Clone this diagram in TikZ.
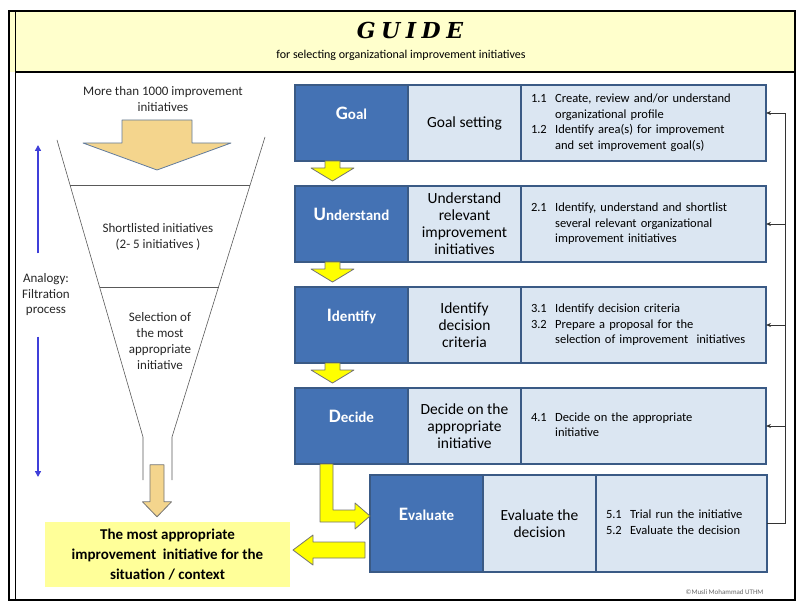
\documentclass[tikz,border=0pt]{standalone}
\usepackage{fontspec}
\setmainfont{Carlito}
\newfontfamily\guidefont[LetterSpace=25]{DejaVu Serif}
\usetikzlibrary{positioning,arrows.meta}
\definecolor{darkcell}{HTML}{4472B4}
\definecolor{lightcell}{HTML}{DBE6F2}
\definecolor{cellline}{HTML}{3A5A85}
\definecolor{headfill}{HTML}{FFFFCC}
\definecolor{resultfill}{HTML}{FFFF99}
\definecolor{stepyellow}{HTML}{FFFF00}
\definecolor{funneltan}{HTML}{F4D58D}
\definecolor{analogyblue}{HTML}{3F3FD9}
\tikzset{cell/.style={draw=cellline,line width=1.5pt,outer sep=0pt,minimum height=76pt},
         stage/.style={cell,fill=darkcell,text=white,minimum width=113pt,
                       font=\fontsize{15}{15}\selectfont\bfseries,text height=11pt,text depth=18pt},
         task/.style={cell,fill=lightcell,minimum width=113pt,align=center,
                      font=\fontsize{15.5}{17}\selectfont},
         detail/.style={cell,fill=lightcell,minimum width=245pt,text width=225pt,align=left,
                        anchor=west,font=\fontsize{12.5}{15.5}\selectfont},
         funnel text/.style={align=center,text=black!85,font=\fontsize{13}{15.5}\selectfont},
         step arrow/.style={fill=stepyellow,draw=black!55,line width=0.8pt,line join=round},
         tan arrow/.style={fill=funneltan,draw=black!55,line width=0.8pt,line join=round},
         feedback/.style={black!80,line width=0.7pt,-{Stealth[length=5pt,width=4pt]}},
            }
\newcommand{\initial}[1]{{\fontsize{19}{19}\selectfont #1}}

\begin{document}
\begin{tikzpicture}[x=1pt,y=-1pt]
    \useasboundingbox (0,0) rectangle (798,604);

    % frame and header
    \fill[headfill] (9,11) rectangle (795,72);
    \draw[line width=2pt] (9,11) rectangle (795,600);
    \draw[line width=0.8pt] (15,11) -- (15,600);
    \draw[line width=1.2pt] (15,72) -- (795,72);
    \node (title) at (410,30) {\fontsize{22}{22}\guidefont\bfseries\itshape GUIDE};
    \node (subtitle) at (401,55) {\fontsize{12}{12}\selectfont for selecting organizational improvement initiatives};

    % the funnel
    \draw[black!65,line width=0.6pt] (57,140) -- (143,437) -- (143,480);
    \draw[black!65,line width=0.6pt] (265,137) -- (172,437) -- (172,480);
    \draw[black!65,line width=0.6pt] (70,185) -- (250,185);
    \draw[black!65,line width=0.6pt] (100,287) -- (219,287);
    \node[funnel text] (more) at (163,99) {More than 1000 improvement\\initiatives};
    \draw[tan arrow,draw=cellline!80] (122,120) -- (192,120) -- (192,143) -- (231,143)
        -- (157,170) -- (83,143) -- (122,143) -- cycle;
    \node[funnel text] (short) at (158,237) {Shortlisted initiatives\\(2- 5 initiatives )};
    \node[funnel text,font=\fontsize{13}{16}\selectfont] (select) at (160,341)
        {Selection of\\the most\\appropriate\\initiative};
    \node[funnel text] (analogy) at (46,295) {Analogy:\\Filtration\\process};
    \coordinate (uptip) at (38,145);
    \coordinate (downtip) at (38,477);
    \draw[analogyblue,line width=1.5pt,-{Triangle[length=6pt,width=6pt]}]
        ([yshift=17pt]analogy.north -| uptip) -- (uptip);
    \draw[analogyblue,line width=1.5pt,-{Triangle[length=6pt,width=6pt]}]
        ([yshift=-17pt]analogy.south -| downtip) -- (downtip);

    \node[fill=resultfill,minimum width=245pt,minimum height=65pt,align=center,
          font=\fontsize{15}{20}\selectfont\bfseries] (result) at (167.5,554.5)
        {The most appropriate\\improvement\ \ initiative for the\\situation / context};
    \draw[tan arrow] ([xshift=-10.5pt,yshift=5pt]result.north) -- ++(-14.5,-15) -- ++(7.5,0)
        -- ++(0,-37) -- ++(14,0) -- ++(0,37) -- ++(7.5,0) -- cycle;

    % the five steps
    \node[stage,anchor=north west] (g1) at (295,85) {\initial{G}oal};
    \node[task,right=0pt of g1] (g2) {Goal setting};
    \node[detail,right=0pt of g2] (g3) {\begin{tabular}{@{}l@{\ \ }l@{}}
        1.1 & Create, review and/or understand\\ & organizational profile\\
        1.2 & Identify area(s) for improvement\\ & and set improvement goal(s)\end{tabular}};

    \node[stage,below=25pt of g1] (u1) {\initial{U}nderstand};
    \node[task,right=0pt of u1] (u2) {Understand\\relevant\\improvement\\initiatives};
    \node[detail,right=0pt of u2] (u3) {\begin{tabular}{@{}l@{\ \ }l@{}}
        2.1 & Identify, understand and shortlist\\ & several relevant organizational\\
            & improvement initiatives\end{tabular}};

    \node[stage,below=25pt of u1] (i1) {\initial{I}dentify};
    \node[task,right=0pt of i1] (i2) {Identify\\decision\\criteria};
    \node[detail,right=0pt of i2] (i3) {\begin{tabular}{@{}l@{\ \ }l@{}}
        3.1 & Identify decision criteria\\
        3.2 & Prepare a proposal for the\\ & selection of improvement\ \ initiatives\end{tabular}};

    \node[stage,below=25pt of i1] (d1) {\initial{D}ecide};
    \node[task,right=0pt of d1] (d2) {Decide on the\\appropriate\\initiative};
    \node[detail,right=0pt of d2] (d3) {\begin{tabular}{@{}l@{\ \ }l@{}}
        4.1 & Decide on the appropriate\\ & initiative\end{tabular}};

    \node[stage,anchor=north west,minimum height=97pt] (e1) at (370,475) {\initial{E}valuate};
    \node[task,right=0pt of e1,minimum height=97pt] (e2) {Evaluate the\\decision};
    \node[detail,right=0pt of e2,minimum height=97pt,minimum width=171pt,text width=151pt] (e3)
        {\begin{tabular}{@{}l@{\ \ }l@{}}
        5.1 & Trial run the initiative\\ 5.2 & Evaluate the decision\end{tabular}};

    % arrows between the steps
    \foreach \s in {g1,u1,i1}
        \draw[step arrow] ([xshift=-26.5pt]\s.south) -- ++(15,0) -- ++(0,7) -- ++(14,0)
            -- ++(-21.5,13) -- ++(-21.5,-13) -- ++(14,0) -- cycle;
    \draw[step arrow] ([xshift=-31.5pt]d1.south) -- ++(13,0) -- ++(0,46) -- ++(22,0)
        -- ++(0,-7) -- ([yshift=7.5pt]e1.west) -- ++(-15,13) -- ++(0,-7) -- ++(-35,0) -- cycle;
    \draw[step arrow] ([xshift=-5pt,yshift=-26pt]e1.west) -- ++(0,-7.5) -- ++(-52,0) -- ++(0,-7)
        -- ++(-20,15) -- ++(20,15) -- ++(0,-7) -- ++(52,0) -- cycle;

    % feedback loop
    \coordinate (fbtop) at (785,113);
    \draw[feedback] (e3.east) -| (fbtop) -- (fbtop -| g3.east);
    \foreach \s in {u3,i3,d3}
        \draw[feedback] (fbtop |- \s.east) -- (\s.east);

    \node[anchor=east,text=black!60,font=\fontsize{7}{7}\selectfont] (credit) at (767,592)
        {\textcopyright Musli Mohammad UTHM};
\end{tikzpicture}
\end{document}
